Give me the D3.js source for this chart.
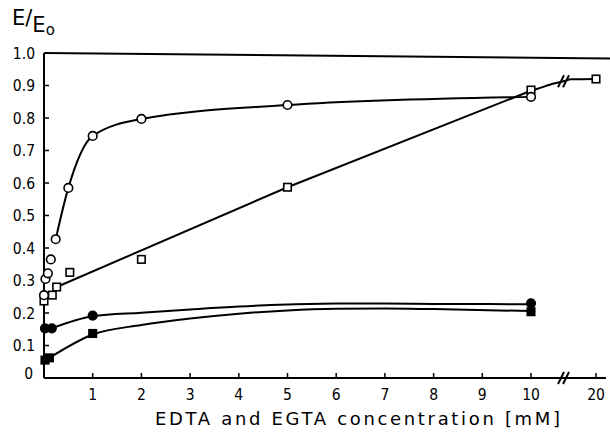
<!DOCTYPE html>
<html>
<head>
<meta charset="utf-8">
<script src="https://cdn.jsdelivr.net/npm/d3@7"></script>
<style>
  body { margin: 0; background: #fff; }
  text { font-family: "DejaVu Sans Condensed", "DejaVu Sans", sans-serif; fill: #000; }
</style>
</head>
<body>
<div id="chart"></div>
<script>
// measured points (concentration in mM, E/Eo)
var openCircleX = [0, 0.03, 0.08, 0.14, 0.24, 0.5, 1, 2, 5, 10];
var openCircleY = [0.255, 0.305, 0.322, 0.365, 0.427, 0.585, 0.745, 0.797, 0.84, 0.865];
var openSquareX = [0, 0.17, 0.26, 0.53, 2, 5, 10, 20];
var openSquareY = [0.237, 0.255, 0.28, 0.325, 0.365, 0.587, 0.886, 0.92];
var filledCircleX = [0.02, 0.16, 1, 10];
var filledCircleY = [0.153, 0.153, 0.192, 0.23];
var filledSquareX = [0.02, 0.11, 1, 10];
var filledSquareY = [0.055, 0.062, 0.137, 0.204];

// hand drawn fit curves
var circleFitX = [0.24, 0.5, 1, 2, 5, 10];
var circleFitY = [0.427, 0.585, 0.745, 0.797, 0.84, 0.865];
var squareFitX = [0.26, 5, 10];
var squareFitY = [0.28, 0.587, 0.884];
var tailFitX = [10, 11, 13.5, 15, 16.2, 20];
var tailFitY = [0.884, 0.89, 0.906, 0.913, 0.919, 0.92];
var filledCircleFitX = [0.16, 1, 2, 3, 4, 5, 6, 7, 8, 10];
var filledCircleFitY = [0.153, 0.19, 0.201, 0.211, 0.22, 0.226, 0.229, 0.229, 0.228, 0.227];
var filledSquareFitX = [0.11, 1, 2, 3, 4, 5, 6, 7, 8, 10];
var filledSquareFitY = [0.062, 0.134, 0.163, 0.183, 0.198, 0.208, 0.213, 0.214, 0.212, 0.206];

var xTicks = [1, 2, 3, 4, 5, 6, 7, 8, 9, 10, 20];
var yTicks = [0.1, 0.2, 0.3, 0.4, 0.5, 0.6, 0.7, 0.8, 0.9];
var xBreak = 15;

var width = 610, height = 435;

var svg = d3.select("#chart").append("svg")
  .attr("width", width)
  .attr("height", height);

// broken axis: 0-10 linear, then jump to 20
var x = d3.scaleLinear()
  .domain([0, 10, 20])
  .range([44, 531, 596]);

var y = d3.scaleLinear()
  .domain([0, 1])
  .range([378, 53]);

function pairs(xs, ys) {
  return xs.map(function (d, i) { return [d, ys[i]]; });
}

// frame line at top
svg.append("line")
  .attr("x1", x(0)).attr("y1", y(1))
  .attr("x2", 610).attr("y2", y(0.983))
  .attr("stroke", "#000").attr("stroke-width", 2);

// y axis
svg.append("line")
  .attr("x1", x(0)).attr("y1", y(1))
  .attr("x2", x(0)).attr("y2", y(0))
  .attr("stroke", "#000").attr("stroke-width", 2);

svg.selectAll(".ytick")
  .data(yTicks)
  .enter().append("line")
  .attr("class", "ytick")
  .attr("x1", x(0)).attr("x2", x(0) + 5)
  .attr("y1", function (d) { return y(d); })
  .attr("y2", function (d) { return y(d); })
  .attr("stroke", "#000").attr("stroke-width", 1.5);

svg.selectAll(".ylabel")
  .data([0].concat(yTicks).concat([1]))
  .enter().append("text")
  .attr("class", "ylabel")
  .attr("x", function (d) { return d === 0 ? 33 : 35; })
  .attr("y", function (d) { return d === 0 ? y(d) - 5 : y(d); })
  .attr("dy", "0.36em")
  .attr("text-anchor", "end")
  .style("font-size", "15.5px")
  .text(function (d) { return d === 0 ? "0" : d3.format(".1f")(d); });

// x axis
svg.append("line")
  .attr("x1", x(0)).attr("y1", y(0))
  .attr("x2", 606).attr("y2", y(0))
  .attr("stroke", "#000").attr("stroke-width", 2);

svg.selectAll(".xtick")
  .data(xTicks)
  .enter().append("line")
  .attr("class", "xtick")
  .attr("x1", function (d) { return x(d); })
  .attr("x2", function (d) { return x(d); })
  .attr("y1", y(0)).attr("y2", y(0) - 5)
  .attr("stroke", "#000").attr("stroke-width", 1.5);

svg.selectAll(".xlabel")
  .data(xTicks)
  .enter().append("text")
  .attr("class", "xlabel")
  .attr("x", function (d) { return x(d); })
  .attr("y", 400)
  .attr("text-anchor", "middle")
  .style("font-size", "15.5px")
  .text(function (d) { return d; });

function breakMark(cx, cy) {
  [-2.5, 2.5].forEach(function (o) {
    svg.append("line")
      .attr("x1", cx + o - 3).attr("y1", cy + 6)
      .attr("x2", cx + o + 3).attr("y2", cy - 6)
      .attr("stroke", "#000").attr("stroke-width", 2);
  });
}
breakMark(x(xBreak), y(0));

// fit curves
var line = d3.line()
  .x(function (d) { return x(d[0]); })
  .y(function (d) { return y(d[1]); })
  .curve(d3.curveMonotoneX);

var fits = [
  pairs(circleFitX, circleFitY),
  pairs(tailFitX, tailFitY),
  pairs(filledCircleFitX, filledCircleFitY),
  pairs(filledSquareFitX, filledSquareFitY)
];
svg.selectAll(".fit")
  .data(fits)
  .enter().append("path")
  .attr("class", "fit")
  .attr("d", line)
  .attr("fill", "none")
  .attr("stroke", "#000")
  .attr("stroke-width", 2);

svg.append("path")
  .attr("d", d3.line()
    .x(function (d) { return x(d[0]); })
    .y(function (d) { return y(d[1]); })(pairs(squareFitX, squareFitY)))
  .attr("fill", "none")
  .attr("stroke", "#000")
  .attr("stroke-width", 2);

breakMark(x(xBreak), y(0.913));

// markers
function circles(xs, ys, fill) {
  svg.append("g").selectAll("circle")
    .data(pairs(xs, ys))
    .enter().append("circle")
    .attr("cx", function (d) { return x(d[0]); })
    .attr("cy", function (d) { return y(d[1]); })
    .attr("r", 4.3)
    .attr("fill", fill)
    .attr("stroke", "#000")
    .attr("stroke-width", 1.6);
}

function squares(xs, ys, fill) {
  var s = 7.5;
  svg.append("g").selectAll("rect")
    .data(pairs(xs, ys))
    .enter().append("rect")
    .attr("x", function (d) { return x(d[0]) - s / 2; })
    .attr("y", function (d) { return y(d[1]) - s / 2; })
    .attr("width", s)
    .attr("height", s)
    .attr("fill", fill)
    .attr("stroke", "#000")
    .attr("stroke-width", 1.6);
}

squares(openSquareX, openSquareY, "#fff");
circles(openCircleX, openCircleY, "#fff");
circles(filledCircleX, filledCircleY, "#000");
squares(filledSquareX, filledSquareY, "#000");

// titles
var yt = svg.append("text")
  .attr("x", 12)
  .attr("y", 25)
  .style("font-family", "DejaVu Sans")
  .style("font-size", "21px");
yt.append("tspan").text("E/");
yt.append("tspan").attr("dy", 7).text("E");
yt.append("tspan").attr("dy", 3).style("font-size", "15px").text("o");

svg.append("text")
  .attr("x", 155)
  .attr("y", 425)
  .attr("textLength", 405)
  .attr("lengthAdjust", "spacing")
  .style("font-family", "DejaVu Sans")
  .style("font-size", "18px")
  .text("EDTA and EGTA concentration [mM]");
</script>
</body>
</html>
